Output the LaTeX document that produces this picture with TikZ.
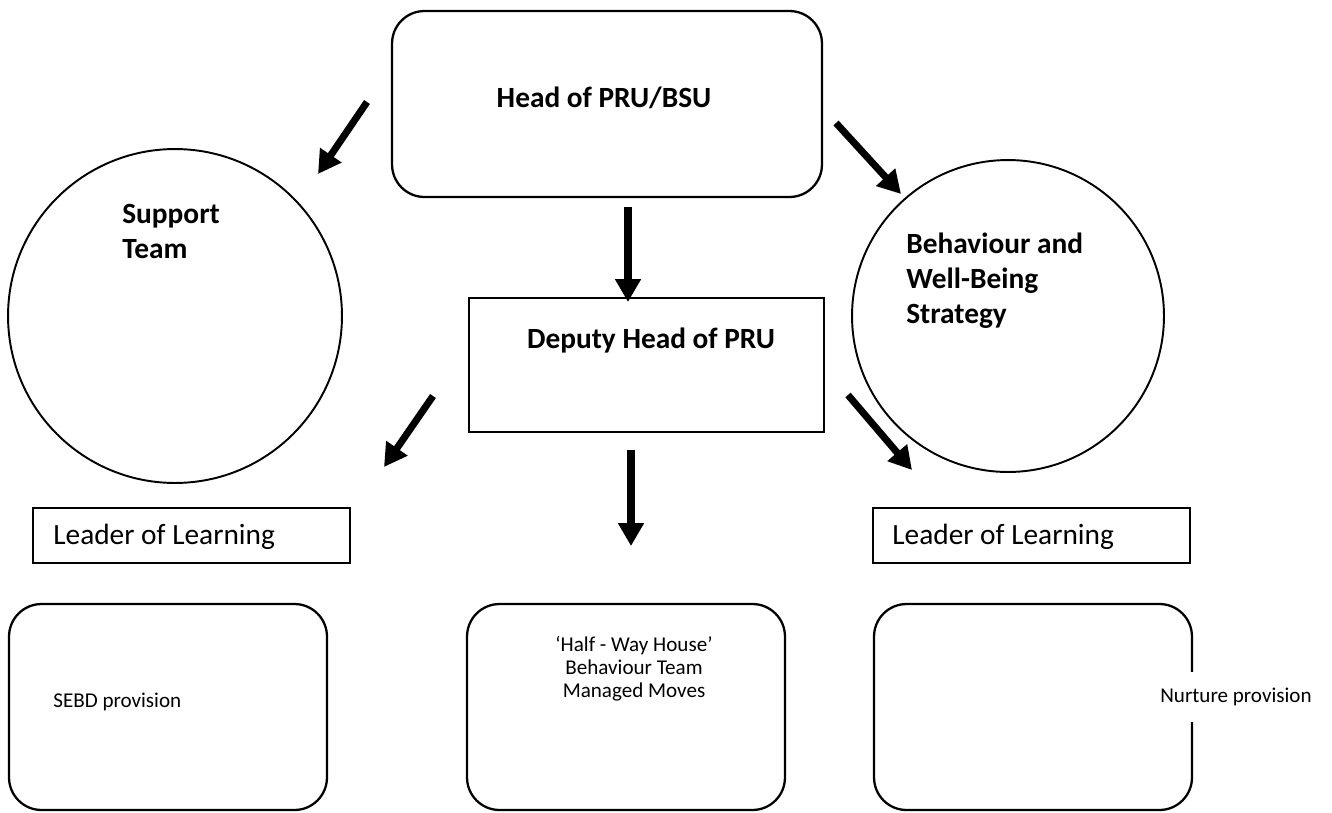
\documentclass[tikz,border=0pt]{standalone}
\usepackage{fontspec}
\setmainfont{Carlito}
\usepackage{tikz}
\usetikzlibrary{positioning, arrows.meta}

\begin{document}
\begin{tikzpicture}[
  x=0.02cm, y=-0.02cm,
  frame/.style={draw=black, line width=1.3pt, inner sep=0pt},
  roundframe/.style={frame, rounded corners=0.65cm},
  ring/.style={draw=black, line width=1.1pt, circle, inner sep=0pt},
  headtxt/.style={font=\bfseries\fontsize{16.7}{19.9}\selectfont, align=left, inner sep=0pt},
  leadbox/.style={frame, line width=1.1pt, minimum width=6.34cm, minimum height=1.1cm},
  leadtxt/.style={font=\fontsize{16.7}{19.9}\selectfont, inner sep=0pt},
  unittxt/.style={font=\fontsize{12}{13}\selectfont, align=center, inner sep=0pt},
  arr/.style={-{Triangle[length=13pt, width=14pt]}, line width=4pt}
]
\useasboundingbox (0,0) rectangle (1332,812);

% top row
\node[roundframe, minimum width=8.6cm, minimum height=3.72cm] (head) at (607,104) {};
\node[headtxt, anchor=base] (headlbl) at (604,107) {Head of PRU/BSU};

\node[ring, minimum size=6.68cm] (support) at (175,316) {};
\node[headtxt, anchor=north west] (supportlbl) at (122,204) {Support\\Team};

\node[ring, minimum size=6.24cm] (wellbeing) at (1008,316) {};
\node[headtxt, anchor=north west] (wellbeinglbl) at (906,233) {Behaviour and\\Well-Being\\Strategy};

\node[frame, minimum width=7.1cm, minimum height=2.68cm] (deputy) at (646.5,365) {};
\node[headtxt, anchor=base] (deputylbl) at (651,348) {Deputy Head of PRU};

% leaders
\node[leadbox] (leadl) at (191.5,535.5) {};
\node[leadtxt, anchor=base west] (leadllbl) at (53,544) {Leader of Learning};
\node[leadbox] (leadr) at (1031.5,535.5) {};
\node[leadtxt, anchor=base west] (leadrlbl) at (892,544) {Leader of Learning};

% provisions
\node[roundframe, minimum width=6.36cm, minimum height=4.12cm] (sebd) at (168,707) {};
\node[unittxt, anchor=base west] (sebdlbl) at (53,707) {SEBD provision};

\node[roundframe, minimum width=6.36cm, minimum height=4.12cm] (halfway) at (626,707) {};
\node[unittxt, anchor=north] (halfwaylbl) at (634,636) {‘Half - Way House’\\Behaviour Team\\Managed Moves};

\node[roundframe, minimum width=6.36cm, minimum height=4.12cm] (nurture) at (1033,707) {};
\node[unittxt, fill=white, anchor=west, minimum height=1cm, inner xsep=0.08cm] (nurturelbl) at (1156,697) {Nurture provision};

% arrows
\coordinate (hl0) at (367,102); \coordinate (hl1) at (318,174);
\coordinate (hr0) at (836,123); \coordinate (hr1) at (901,194);
\coordinate (hd0) at (628,207); \coordinate (hd1) at (628,302);
\coordinate (dl0) at (433,396); \coordinate (dl1) at (384,467);
\coordinate (dr0) at (848,395); \coordinate (dr1) at (912,470);
\coordinate (dd0) at (631,450); \coordinate (dd1) at (631,546);

\draw[arr] (hl0) -- (hl1);
\draw[arr] (hr0) -- (hr1);
\draw[arr] (hd0) -- (hd1);
\draw[arr] (dl0) -- (dl1);
\draw[arr] (dr0) -- (dr1);
\draw[arr] (dd0) -- (dd1);
\end{tikzpicture}
\end{document}
